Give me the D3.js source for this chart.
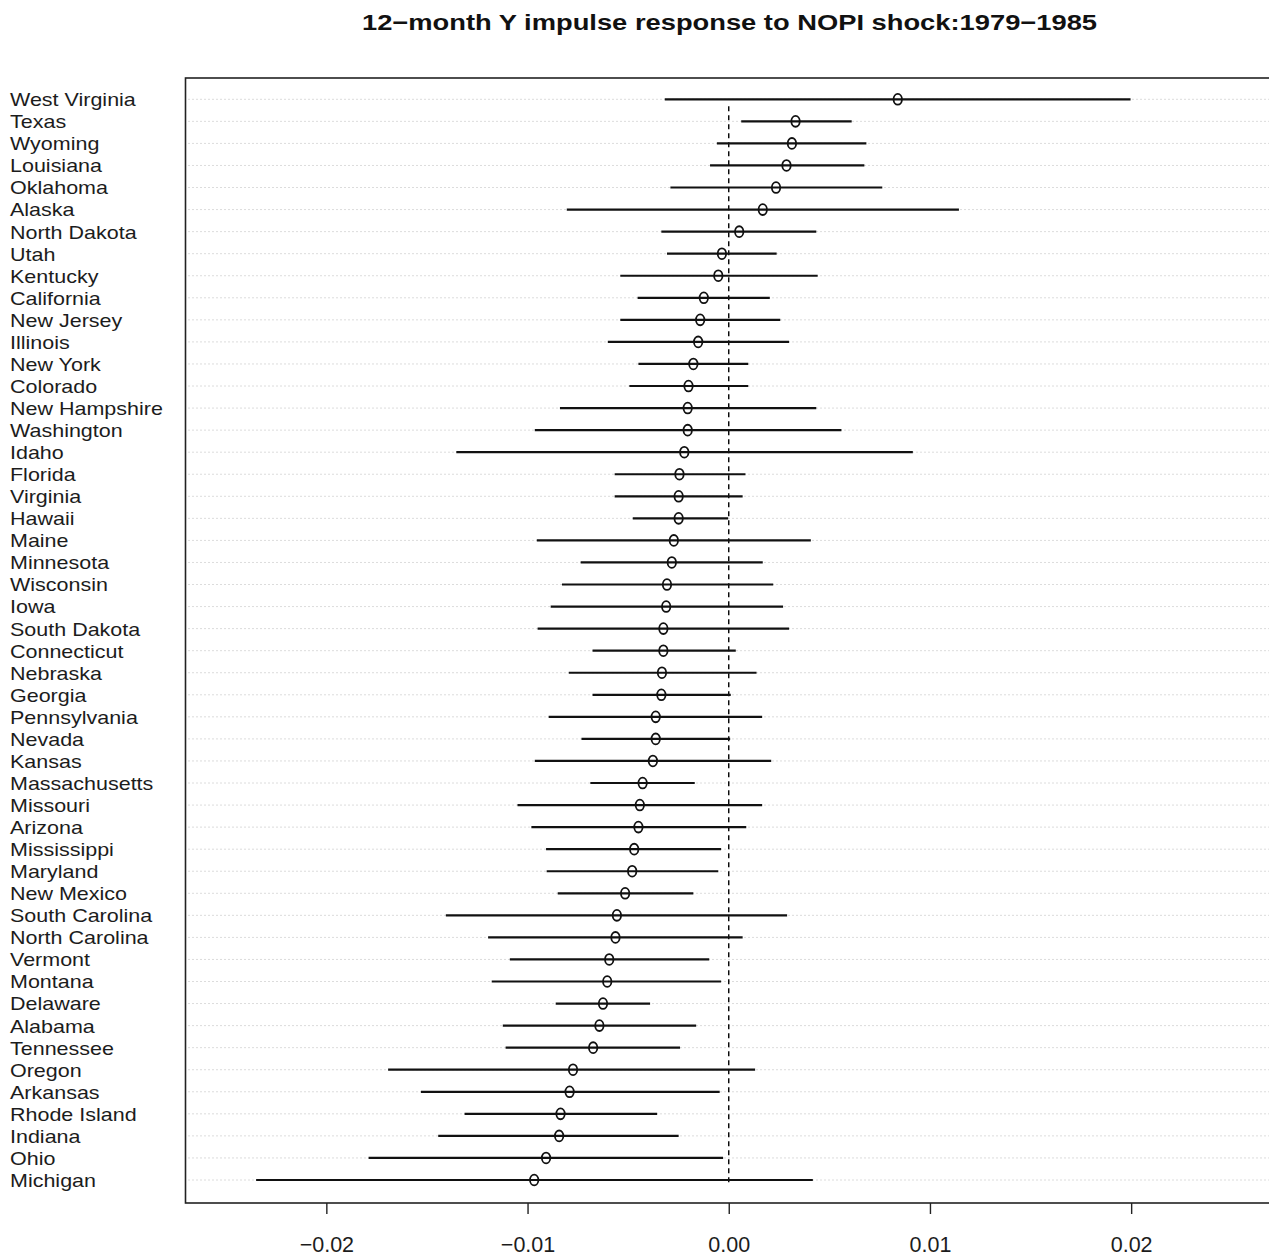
<!DOCTYPE html>
<html>
<head>
<meta charset="utf-8">
<script src="https://cdn.jsdelivr.net/npm/d3@7"></script>
<style>
  body { margin: 0; background: #fff; }
  svg text { font-family: "Liberation Sans", Arial, sans-serif; }
</style>
</head>
<body>
<div id="chart"></div>
<script>
const states = ["West Virginia","Texas","Wyoming","Louisiana","Oklahoma","Alaska","North Dakota","Utah","Kentucky","California",
  "New Jersey","Illinois","New York","Colorado","New Hampshire","Washington","Idaho","Florida","Virginia","Hawaii",
  "Maine","Minnesota","Wisconsin","Iowa","South Dakota","Connecticut","Nebraska","Georgia","Pennsylvania","Nevada",
  "Kansas","Massachusetts","Missouri","Arizona","Mississippi","Maryland","New Mexico","South Carolina","North Carolina","Vermont",
  "Montana","Delaware","Alabama","Tennessee","Oregon","Arkansas","Rhode Island","Indiana","Ohio","Michigan"];

// point estimates (x 1e-3)
const est = [8.40,3.32,3.14,2.87,2.35,1.69,0.52,-0.34,-0.52,-1.24,
  -1.42,-1.52,-1.76,-2.00,-2.04,-2.04,-2.21,-2.45,-2.49,-2.49,
  -2.73,-2.83,-3.07,-3.11,-3.25,-3.25,-3.32,-3.35,-3.63,-3.63,
  -3.77,-4.28,-4.42,-4.49,-4.70,-4.80,-5.15,-5.56,-5.63,-5.94,
  -6.04,-6.25,-6.43,-6.74,-7.74,-7.91,-8.36,-8.43,-9.08,-9.67];

// lower bounds (x 1e-3)
const lower = [-3.18,0.62,-0.59,-0.93,-2.90,-8.05,-3.35,-3.07,-5.39,-4.53,
  -5.39,-6.01,-4.49,-4.94,-8.39,-9.64,-13.54,-5.67,-5.67,-4.77,
  -9.54,-7.36,-8.29,-8.85,-9.50,-6.77,-7.95,-6.77,-8.95,-7.32,
  -9.64,-6.88,-10.50,-9.81,-9.08,-9.05,-8.50,-14.06,-11.96,-10.88,
  -11.78,-8.60,-11.23,-11.09,-16.93,-15.30,-13.13,-14.44,-17.90,-23.49];

// upper bounds (x 1e-3)
const upper = [19.97,6.11,6.84,6.74,7.63,11.44,4.35,2.38,4.42,2.04,
  2.56,3.00,0.97,0.97,4.35,5.60,9.15,0.83,0.69,-0.03,
  4.08,1.69,2.21,2.70,3.00,0.35,1.38,0.10,1.66,0.07,
  2.11,-1.69,1.66,0.87,-0.38,-0.52,-1.76,2.90,0.69,-0.97,
  -0.38,-3.91,-1.62,-2.42,1.31,-0.45,-3.56,-2.49,-0.28,4.18];

const xTicks = [-0.02, -0.01, 0.00, 0.01, 0.02];
const title = "12\u2212month Y impulse response to NOPI shock:1979\u22121985";

const data = states.map((s, i) => ({name: s, est: est[i] / 1000, lo: lower[i] / 1000, hi: upper[i] / 1000}));

const W = 1269, H = 1257;
const margin = {top: 78, right: -3, bottom: 54, left: 185.5};
const labelStretch = 1.12; // the source picture is a little wider than tall

const svg = d3.select("#chart").append("svg")
    .attr("width", W).attr("height", H);

const x = d3.scaleLinear()
    .domain([-0.027, 0.027])
    .range([margin.left, W - margin.right]);

const y = d3.scalePoint()
    .domain(states)
    .range([99.3, 1180]);

// dotted grid lines
svg.append("g").selectAll("line")
    .data(data)
    .join("line")
    .attr("x1", margin.left + 3)
    .attr("x2", W)
    .attr("y1", d => y(d.name))
    .attr("y2", d => y(d.name))
    .attr("stroke", "#b8b8b8")
    .attr("stroke-width", 1)
    .attr("stroke-dasharray", "1,3");

// dashed zero line
svg.append("line")
    .attr("x1", x(0)).attr("x2", x(0))
    .attr("y1", y(states[0]) + 7)
    .attr("y2", y(states[states.length - 1]) + 3)
    .attr("stroke", "#000")
    .attr("stroke-width", 1.4)
    .attr("stroke-dasharray", "5,4");

// confidence intervals
svg.append("g").selectAll("line")
    .data(data)
    .join("line")
    .attr("x1", d => x(d.lo))
    .attr("x2", d => x(d.hi))
    .attr("y1", d => y(d.name))
    .attr("y2", d => y(d.name))
    .attr("stroke", "#111")
    .attr("stroke-width", 2.2);

// point estimates
svg.append("g").selectAll("ellipse")
    .data(data)
    .join("ellipse")
    .attr("cx", d => x(d.est))
    .attr("cy", d => y(d.name))
    .attr("rx", 4.2)
    .attr("ry", 5.4)
    .attr("fill", "none")
    .attr("stroke", "#111")
    .attr("stroke-width", 1.8);

// state labels
svg.append("g")
    .attr("transform", `scale(${labelStretch},1)`)
    .selectAll("text")
    .data(states)
    .join("text")
    .attr("x", 10 / labelStretch)
    .attr("y", d => y(d))
    .attr("dy", "0.36em")
    .attr("font-size", 19.2)
    .attr("fill", "#1c1c1c")
    .text(d => d);

// plot box
svg.append("rect")
    .attr("x", margin.left)
    .attr("y", margin.top)
    .attr("width", x.range()[1] - margin.left)
    .attr("height", H - margin.bottom - margin.top)
    .attr("fill", "none")
    .attr("stroke", "#222")
    .attr("stroke-width", 1.6);

// x axis
const xAxis = svg.append("g")
    .attr("transform", `translate(0,${H - margin.bottom})`)
    .call(d3.axisBottom(x).tickValues(xTicks).tickSize(11).tickPadding(23)
        .tickFormat(d => d3.format(".2f")(d).replace("-", "\u2212")));
xAxis.select(".domain").remove();
xAxis.selectAll(".tick line").attr("stroke", "#222").attr("stroke-width", 1.4);
xAxis.selectAll("text")
    .attr("font-size", 21.5)
    .attr("fill", "#1c1c1c")
    .style("font-family", "'Liberation Sans', Arial, sans-serif");

// title
svg.append("text")
    .attr("x", 729.5)
    .attr("y", 30)
    .attr("text-anchor", "middle")
    .attr("font-size", 22)
    .attr("font-weight", "bold")
    .attr("fill", "#111")
    .attr("textLength", 735)
    .attr("lengthAdjust", "spacingAndGlyphs")
    .text(title);
</script>
</body>
</html>
